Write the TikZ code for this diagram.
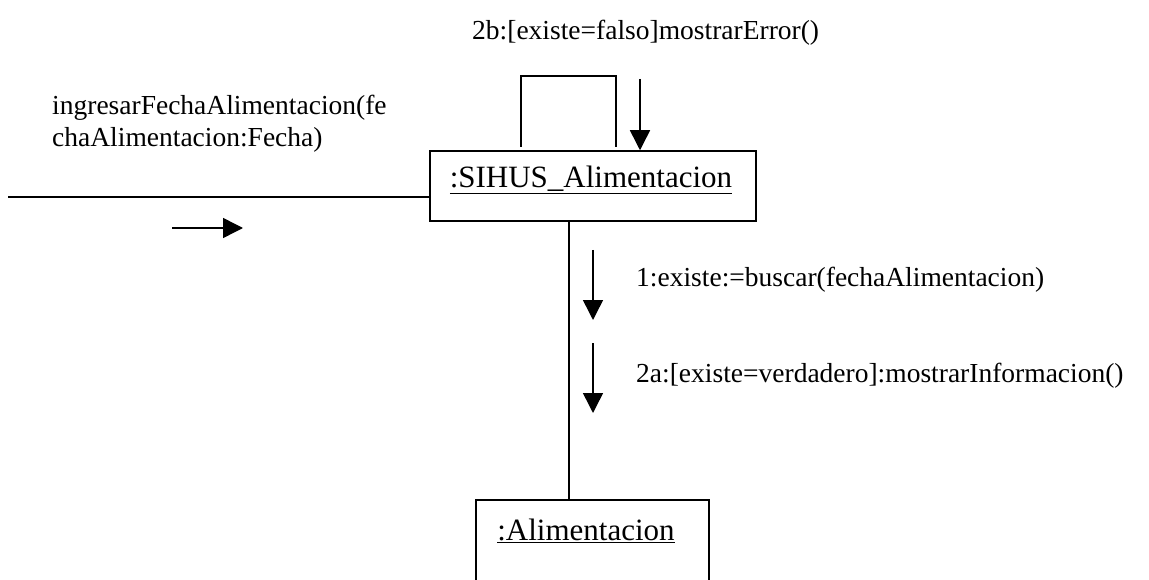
\documentclass[tikz,border=0pt]{standalone}
\usepackage{fontspec}
\setmainfont{Liberation Serif}
\usetikzlibrary{arrows.meta}
\begin{document}
\begin{tikzpicture}[x=1pt,y=-1pt,
  conn/.style={line width=1.5pt},
  msg/.style={line width=1.5pt,-{Triangle[width=20pt,length=20pt]}},
  obj/.style={draw,line width=1.5pt,rectangle,inner sep=0pt},
  lbl/.style={inner sep=0pt,font=\fontsize{27.5}{32}\selectfont},
  objtxt/.style={inner sep=0pt,font=\fontsize{31}{36}\selectfont}]
\clip (0,0) rectangle (1149,580);
\fill[white] (0,0) rectangle (1149,580);
% objects
\node[obj,minimum width=326pt,minimum height=70pt] (sihus) at (593,186) {};
\node[objtxt,anchor=base] (sihustxt) at (591,188) {\underline{:SIHUS\_Alimentacion}};
\node[obj,minimum width=233pt,minimum height=100pt] (alim) at (592.5,550) {};
\node[objtxt,anchor=base] (alimtxt) at (586,540) {\underline{:Alimentacion}};
% incoming link
\coordinate (inL) at (8,197);
\draw[conn] (inL) -- (inL -| sihus.west);
\coordinate (m0a) at (172,228);
\coordinate (m0b) at (243,228);
\draw[msg] (m0a) -- (m0b);
\node[lbl,anchor=base west,align=left] (l0) at (52,147) {ingresarFechaAlimentacion(fe\\chaAlimentacion:Fecha)};
% self loop
\coordinate (sl1) at (521,147);
\coordinate (sl2) at (521,76);
\coordinate (sl3) at (616,76);
\coordinate (sl4) at (616,147);
\draw[conn] (sl1) -- (sl2) -- (sl3) -- (sl4);
\coordinate (m2bs) at (640,79);
\draw[msg] (m2bs) -- (m2bs |- sihus.north);
\node[lbl,anchor=base west] (l2b) at (472,40) {2b:[existe=falso]mostrarError()};
% link to Alimentacion
\coordinate (lk) at (569,0);
\draw[conn] (lk |- sihus.south) -- (lk |- alim.north);
\coordinate (m1s) at (593,250);
\coordinate (m1e) at (593,320);
\draw[msg] (m1s) -- (m1e);
\coordinate (m2s) at (593,343);
\coordinate (m2e) at (593,413);
\draw[msg] (m2s) -- (m2e);
\node[lbl,anchor=base west] (l1) at (636,287) {1:existe:=buscar(fechaAlimentacion)};
\node[lbl,anchor=base west] (l2a) at (636,382) {2a:[existe=verdadero]:mostrarInformacion()};
\end{tikzpicture}
\end{document}
